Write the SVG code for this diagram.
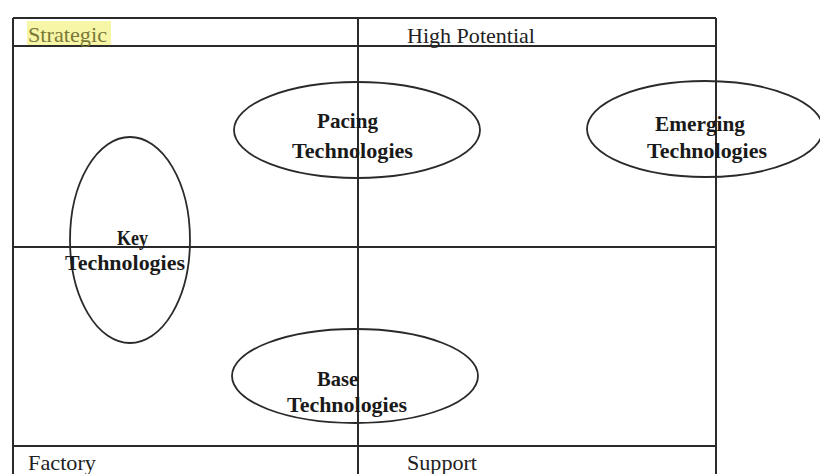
<svg xmlns="http://www.w3.org/2000/svg" width="820" height="474" viewBox="0 0 820 474">
<style>
.grid{stroke:#2a2a2a;stroke-width:2;fill:none}
.ell{stroke:#2a2a2a;stroke-width:1.8;fill:none}
.hdr{font-family:"Liberation Serif",serif;font-size:21px;fill:#222}
.lbl{font-family:"Liberation Serif",serif;font-size:22px;font-weight:bold;fill:#1a1a1a}
</style>
<rect width="820" height="474" fill="#ffffff"/>
<g id="highlight"><rect x="27" y="21" width="84" height="25" fill="#f7f5a6"/></g>
<g id="grid">
<line class="grid" x1="13" y1="18" x2="716" y2="18"/>
<line class="grid" x1="13" y1="46" x2="716" y2="46"/>
<line class="grid" x1="13" y1="18" x2="13" y2="474"/>
<line class="grid" x1="716" y1="18" x2="716" y2="474"/>
<line class="grid" x1="358" y1="18" x2="358" y2="474"/>
<line class="grid" x1="13" y1="247" x2="716" y2="247"/>
<line class="grid" x1="13" y1="446" x2="716" y2="446"/>
</g>
<g id="headers">
<text class="hdr" x="28" y="42" textLength="79" lengthAdjust="spacingAndGlyphs" style="fill:#7a7a38">Strategic</text>
<text class="hdr" x="407" y="43" textLength="128" lengthAdjust="spacingAndGlyphs">High Potential</text>
<text class="hdr" x="28" y="470" textLength="68" lengthAdjust="spacingAndGlyphs">Factory</text>
<text class="hdr" x="407" y="470" textLength="70" lengthAdjust="spacingAndGlyphs">Support</text>
</g>
<g id="pacing">
<ellipse class="ell" cx="357" cy="130" rx="123" ry="48"/>
<text class="lbl" x="317" y="128" textLength="61" lengthAdjust="spacingAndGlyphs">Pacing</text>
<text class="lbl" x="292" y="158" textLength="121" lengthAdjust="spacingAndGlyphs">Technologies</text>
</g>
<g id="emerging">
<ellipse class="ell" cx="705" cy="129" rx="118" ry="48"/>
<text class="lbl" x="655" y="131" textLength="90" lengthAdjust="spacingAndGlyphs">Emerging</text>
<text class="lbl" x="647" y="158" textLength="120" lengthAdjust="spacingAndGlyphs">Technologies</text>
</g>
<g id="key">
<ellipse class="ell" cx="130" cy="240" rx="60" ry="103"/>
<text class="lbl" x="117" y="245" textLength="31" lengthAdjust="spacingAndGlyphs">Key</text>
<text class="lbl" x="65" y="270" textLength="120" lengthAdjust="spacingAndGlyphs">Technologies</text>
</g>
<g id="base">
<ellipse class="ell" cx="355" cy="376" rx="123" ry="47"/>
<text class="lbl" x="317" y="386" textLength="41" lengthAdjust="spacingAndGlyphs">Base</text>
<text class="lbl" x="287" y="412" textLength="120" lengthAdjust="spacingAndGlyphs">Technologies</text>
</g>
</svg>
